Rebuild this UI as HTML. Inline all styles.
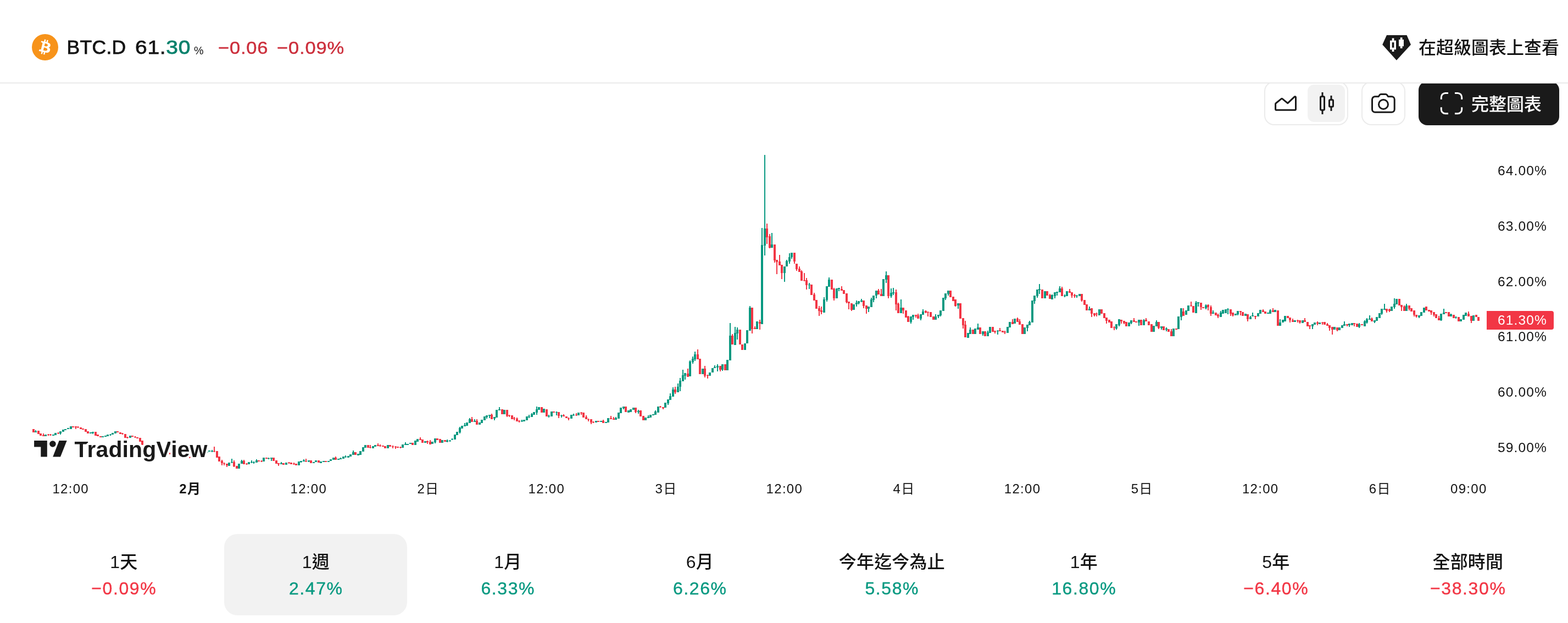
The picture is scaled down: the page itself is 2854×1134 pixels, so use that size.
<!DOCTYPE html>
<html lang="zh-Hant"><head><meta charset="utf-8"><title>BTC.D</title>
<style>
html,body{margin:0;padding:0;background:#fff;}
body{width:2854px;height:1134px;position:relative;overflow:hidden;font-family:"Liberation Sans", "Noto Sans CJK TC", sans-serif;color:#131313;
-webkit-font-smoothing:antialiased;}
.t{position:absolute;white-space:nowrap;}
.abs{position:absolute;}
.c{text-align:center;}
svg{position:absolute;overflow:visible;}
</style></head><body>

<svg class="chart" width="2854" height="1134" viewBox="0 0 2854 1134" style="left:0;top:0" shape-rendering="crispEdges">
<path fill="#089981" d="M63 785h4V787h-4zM64 783h2V787h-2zM81 791h4V794h-4zM82 791h2V794h-2zM95 791h4V793h-4zM96 791h2V793h-2zM99 788h4V792h-4zM100 788h2V792h-2zM108 785h4V789h-4zM109 785h2V791h-2zM113 782h4V786h-4zM114 782h2V786h-2zM117 781h4V783h-4zM118 781h2V783h-2zM122 779h4V781h-4zM123 779h2V781h-2zM127 776h4V781h-4zM128 776h2V781h-2zM163 787h4V789h-4zM164 787h2V789h-2zM167 786h4V788h-4zM168 786h2V790h-2zM185 794h4V796h-4zM186 794h2V796h-2zM190 793h4V795h-4zM191 793h2V795h-2zM194 791h4V794h-4zM195 791h2V794h-2zM199 791h4V792h-4zM200 790h2V793h-2zM203 788h4V791h-4zM204 788h2V791h-2zM208 785h4V789h-4zM209 785h2V789h-2zM235 793h4V797h-4zM236 793h2V797h-2zM311 825h4V826h-4zM312 824h2V827h-2zM339 832h4V833h-4zM340 831h2V834h-2zM348 832h4V833h-4zM349 831h2V834h-2zM352 830h4V832h-4zM353 830h2V833h-2zM357 827h4V830h-4zM358 826h2V831h-2zM361 826h4V827h-4zM362 825h2V828h-2zM366 825h4V827h-4zM367 825h2V828h-2zM370 824h4V825h-4zM371 823h2V826h-2zM375 822h4V824h-4zM376 822h2V825h-2zM379 820h4V822h-4zM380 820h2V822h-2zM384 821h4V822h-4zM385 819h2V823h-2zM415 842h4V848h-4zM416 842h2V848h-2zM420 841h4V842h-4zM421 835h2V843h-2zM433 844h4V853h-4zM434 844h2V853h-2zM438 839h4V844h-4zM439 837h2V844h-2zM451 841h4V845h-4zM452 841h2V845h-2zM456 841h4V842h-4zM457 838h2V843h-2zM460 841h4V842h-4zM461 840h2V844h-2zM465 838h4V842h-4zM466 836h2V842h-2zM478 833h4V840h-4zM479 833h2V840h-2zM487 834h4V835h-4zM488 833h2V836h-2zM492 833h4V835h-4zM493 833h2V839h-2zM510 843h4V845h-4zM511 841h2V845h-2zM519 842h4V846h-4zM520 842h2V846h-2zM542 840h4V847h-4zM543 840h2V847h-2zM546 839h4V841h-4zM547 839h2V842h-2zM551 838h4V840h-4zM552 836h2V840h-2zM560 838h4V840h-4zM561 838h2V841h-2zM569 841h4V843h-4zM570 841h2V843h-2zM573 838h4V841h-4zM574 838h2V841h-2zM582 840h4V843h-4zM583 840h2V843h-2zM587 839h4V841h-4zM588 839h2V841h-2zM596 839h4V841h-4zM597 839h2V841h-2zM600 836h4V839h-4zM601 836h2V839h-2zM605 833h4V837h-4zM606 833h2V837h-2zM614 835h4V837h-4zM615 835h2V837h-2zM618 834h4V836h-4zM619 833h2V836h-2zM623 831h4V835h-4zM624 831h2V835h-2zM627 831h4V832h-4zM628 829h2V833h-2zM632 830h4V833h-4zM633 830h2V833h-2zM636 827h4V831h-4zM637 827h2V831h-2zM641 823h4V828h-4zM642 820h2V828h-2zM650 826h4V829h-4zM651 826h2V829h-2zM654 821h4V828h-4zM655 821h2V828h-2zM659 814h4V822h-4zM660 814h2V822h-2zM663 810h4V815h-4zM664 810h2V815h-2zM677 812h4V816h-4zM678 812h2V816h-2zM681 810h4V813h-4zM682 810h2V813h-2zM704 810h4V816h-4zM705 810h2V816h-2zM731 809h4V815h-4zM732 809h2V815h-2zM736 808h4V810h-4zM737 805h2V810h-2zM740 808h4V810h-4zM741 808h2V810h-2zM745 806h4V808h-4zM746 806h2V808h-2zM754 802h4V810h-4zM755 802h2V810h-2zM758 799h4V804h-4zM759 799h2V804h-2zM772 803h4V806h-4zM773 803h2V806h-2zM785 804h4V808h-4zM786 804h2V808h-2zM790 798h4V805h-4zM791 798h2V807h-2zM803 801h4V806h-4zM804 801h2V806h-2zM812 802h4V804h-4zM813 800h2V805h-2zM817 802h4V803h-4zM818 801h2V804h-2zM821 799h4V800h-4zM822 798h2V801h-2zM826 791h4V800h-4zM827 791h2V800h-2zM830 786h4V792h-4zM831 786h2V792h-2zM835 779h4V787h-4zM836 777h2V789h-2zM839 775h4V780h-4zM840 775h2V780h-2zM844 774h4V776h-4zM845 770h2V776h-2zM848 769h4V775h-4zM849 769h2V775h-2zM853 763h4V770h-4zM854 761h2V770h-2zM862 766h4V768h-4zM863 763h2V768h-2zM871 769h4V773h-4zM872 769h2V773h-2zM875 764h4V770h-4zM876 764h2V770h-2zM880 758h4V765h-4zM881 758h2V765h-2zM884 756h4V759h-4zM885 756h2V762h-2zM889 755h4V757h-4zM890 755h2V761h-2zM898 759h4V762h-4zM899 759h2V765h-2zM902 746h4V760h-4zM903 746h2V760h-2zM907 745h4V747h-4zM908 741h2V747h-2zM916 746h4V754h-4zM917 746h2V754h-2zM948 766h4V767h-4zM949 764h2V768h-2zM952 764h4V767h-4zM953 764h2V767h-2zM957 758h4V765h-4zM958 758h2V765h-2zM961 758h4V759h-4zM962 755h2V761h-2zM966 754h4V759h-4zM967 752h2V759h-2zM970 750h4V755h-4zM971 750h2V755h-2zM975 745h4V751h-4zM976 740h2V755h-2zM979 741h4V746h-4zM980 741h2V746h-2zM988 744h4V751h-4zM989 744h2V751h-2zM997 757h4V758h-4zM998 755h2V760h-2zM1002 749h4V758h-4zM1003 749h2V758h-2zM1011 750h4V751h-4zM1012 749h2V756h-2zM1020 756h4V757h-4zM1021 755h2V760h-2zM1038 755h4V762h-4zM1039 755h2V762h-2zM1042 755h4V756h-4zM1043 753h2V757h-2zM1051 751h4V756h-4zM1052 751h2V756h-2zM1083 766h4V769h-4zM1084 766h2V769h-2zM1092 766h4V768h-4zM1093 766h2V768h-2zM1101 768h4V770h-4zM1102 768h2V770h-2zM1105 761h4V769h-4zM1106 761h2V769h-2zM1119 761h4V764h-4zM1120 759h2V764h-2zM1124 751h4V762h-4zM1125 751h2V762h-2zM1128 742h4V752h-4zM1129 742h2V752h-2zM1133 740h4V743h-4zM1134 740h2V745h-2zM1142 747h4V751h-4zM1143 747h2V751h-2zM1146 745h4V750h-4zM1147 745h2V750h-2zM1151 742h4V746h-4zM1152 742h2V746h-2zM1160 748h4V750h-4zM1161 746h2V753h-2zM1173 760h4V765h-4zM1174 760h2V765h-2zM1178 759h4V761h-4zM1179 756h2V761h-2zM1182 755h4V760h-4zM1183 755h2V760h-2zM1187 754h4V756h-4zM1188 754h2V756h-2zM1191 749h4V755h-4zM1192 747h2V755h-2zM1196 740h4V751h-4zM1197 740h2V751h-2zM1209 733h4V742h-4zM1210 733h2V742h-2zM1214 727h4V734h-4zM1215 727h2V737h-2zM1218 721h4V728h-4zM1219 716h2V728h-2zM1223 709h4V722h-4zM1224 705h2V722h-2zM1232 704h4V714h-4zM1233 698h2V714h-2zM1236 693h4V704h-4zM1237 688h2V712h-2zM1241 683h4V694h-4zM1242 673h2V694h-2zM1245 679h4V684h-4zM1246 679h2V691h-2zM1254 658h4V685h-4zM1255 656h2V685h-2zM1259 653h4V659h-4zM1260 649h2V662h-2zM1263 645h4V654h-4zM1264 640h2V657h-2zM1277 671h4V681h-4zM1278 671h2V681h-2zM1290 678h4V684h-4zM1291 678h2V684h-2zM1295 670h4V678h-4zM1296 670h2V678h-2zM1299 668h4V670h-4zM1300 665h2V670h-2zM1304 666h4V669h-4zM1305 663h2V676h-2zM1313 663h4V673h-4zM1314 663h2V675h-2zM1322 655h4V674h-4zM1323 655h2V674h-2zM1327 611h4V656h-4zM1328 588h2V656h-2zM1336 606h4V628h-4zM1337 595h2V628h-2zM1340 600h4V607h-4zM1341 596h2V618h-2zM1354 625h4V637h-4zM1355 625h2V637h-2zM1358 601h4V625h-4zM1359 601h2V625h-2zM1363 560h4V602h-4zM1364 557h2V602h-2zM1376 585h4V599h-4zM1377 585h2V599h-2zM1385 446h4V590h-4zM1386 415h2V590h-2zM1390 416h4V447h-4zM1391 282h2V465h-2zM1403 445h4V451h-4zM1404 424h2V451h-2zM1426 485h4V497h-4zM1427 485h2V513h-2zM1430 475h4V485h-4zM1431 473h2V485h-2zM1435 468h4V476h-4zM1436 461h2V480h-2zM1439 460h4V468h-4zM1440 460h2V471h-2zM1471 518h4V519h-4zM1472 515h2V526h-2zM1498 545h4V569h-4zM1499 541h2V569h-2zM1503 521h4V546h-4zM1504 521h2V549h-2zM1507 509h4V522h-4zM1508 505h2V522h-2zM1521 525h4V543h-4zM1522 525h2V543h-2zM1525 524h4V526h-4zM1526 524h2V530h-2zM1552 554h4V564h-4zM1553 554h2V564h-2zM1557 551h4V554h-4zM1558 547h2V558h-2zM1561 548h4V552h-4zM1562 548h2V554h-2zM1566 547h4V549h-4zM1567 544h2V550h-2zM1579 558h4V562h-4zM1580 558h2V568h-2zM1584 545h4V559h-4zM1585 542h2V559h-2zM1588 538h4V546h-4zM1589 538h2V550h-2zM1593 529h4V538h-4zM1594 529h2V543h-2zM1606 508h4V539h-4zM1607 508h2V539h-2zM1611 501h4V509h-4zM1612 494h2V515h-2zM1620 533h4V539h-4zM1621 525h2V542h-2zM1624 532h4V534h-4zM1625 524h2V537h-2zM1638 560h4V570h-4zM1639 545h2V570h-2zM1656 576h4V586h-4zM1657 576h2V589h-2zM1660 573h4V577h-4zM1661 573h2V582h-2zM1674 572h4V580h-4zM1675 572h2V583h-2zM1678 567h4V573h-4zM1679 563h2V573h-2zM1701 576h4V582h-4zM1702 572h2V582h-2zM1706 573h4V576h-4zM1707 573h2V579h-2zM1710 565h4V574h-4zM1711 565h2V576h-2zM1715 542h4V566h-4zM1716 542h2V566h-2zM1719 534h4V543h-4zM1720 534h2V546h-2zM1724 529h4V535h-4zM1725 529h2V538h-2zM1742 552h4V556h-4zM1743 552h2V562h-2zM1760 606h4V615h-4zM1761 606h2V615h-2zM1764 600h4V608h-4zM1765 596h2V608h-2zM1773 598h4V608h-4zM1774 598h2V608h-2zM1778 596h4V600h-4zM1779 589h2V600h-2zM1787 603h4V608h-4zM1788 603h2V611h-2zM1796 605h4V612h-4zM1797 602h2V612h-2zM1800 595h4V606h-4zM1801 595h2V606h-2zM1814 602h4V603h-4zM1815 601h2V609h-2zM1832 595h4V606h-4zM1833 595h2V606h-2zM1836 586h4V596h-4zM1837 586h2V596h-2zM1845 580h4V589h-4zM1846 580h2V589h-2zM1863 596h4V608h-4zM1864 596h2V608h-2zM1868 591h4V597h-4zM1869 591h2V603h-2zM1872 586h4V592h-4zM1873 584h2V592h-2zM1877 547h4V587h-4zM1878 547h2V587h-2zM1881 538h4V548h-4zM1882 538h2V553h-2zM1886 527h4V539h-4zM1887 527h2V542h-2zM1890 526h4V528h-4zM1891 517h2V535h-2zM1900 530h4V543h-4zM1901 530h2V543h-2zM1913 537h4V545h-4zM1914 536h2V545h-2zM1918 532h4V539h-4zM1919 532h2V543h-2zM1922 531h4V533h-4zM1923 531h2V538h-2zM1927 525h4V532h-4zM1928 521h2V532h-2zM1936 538h4V539h-4zM1937 536h2V541h-2zM1940 530h4V539h-4zM1941 530h2V539h-2zM1958 538h4V539h-4zM1959 537h2V542h-2zM1963 535h4V539h-4zM1964 535h2V539h-2zM1981 562h4V565h-4zM1982 558h2V565h-2zM1999 563h4V574h-4zM2000 563h2V574h-2zM2030 590h4V598h-4zM2031 590h2V600h-2zM2035 581h4V592h-4zM2036 581h2V594h-2zM2053 587h4V594h-4zM2054 587h2V594h-2zM2057 583h4V588h-4zM2058 583h2V590h-2zM2071 582h4V587h-4zM2072 582h2V593h-2zM2080 583h4V592h-4zM2081 581h2V592h-2zM2098 593h4V604h-4zM2099 593h2V604h-2zM2103 586h4V594h-4zM2104 583h2V594h-2zM2112 594h4V597h-4zM2113 594h2V600h-2zM2121 598h4V600h-4zM2122 596h2V603h-2zM2134 598h4V612h-4zM2135 598h2V612h-2zM2143 576h4V599h-4zM2144 576h2V599h-2zM2148 561h4V577h-4zM2149 561h2V583h-2zM2157 565h4V573h-4zM2158 565h2V573h-2zM2161 556h4V566h-4zM2162 556h2V566h-2zM2175 551h4V570h-4zM2176 548h2V570h-2zM2179 550h4V552h-4zM2180 550h2V558h-2zM2193 556h4V561h-4zM2194 554h2V563h-2zM2206 569h4V571h-4zM2207 565h2V571h-2zM2220 569h4V577h-4zM2221 566h2V577h-2zM2224 564h4V571h-4zM2225 564h2V571h-2zM2229 563h4V570h-4zM2230 563h2V570h-2zM2233 563h4V564h-4zM2234 561h2V572h-2zM2247 571h4V574h-4zM2248 571h2V574h-2zM2251 566h4V572h-4zM2252 566h2V574h-2zM2265 571h4V575h-4zM2266 571h2V575h-2zM2274 577h4V581h-4zM2275 575h2V581h-2zM2278 574h4V576h-4zM2279 569h2V576h-2zM2288 570h4V576h-4zM2289 570h2V576h-2zM2292 564h4V571h-4zM2293 564h2V571h-2zM2306 569h4V571h-4zM2307 569h2V571h-2zM2310 565h4V571h-4zM2311 563h2V571h-2zM2319 564h4V568h-4zM2320 564h2V568h-2zM2328 587h4V593h-4zM2329 581h2V593h-2zM2333 582h4V587h-4zM2334 582h2V587h-2zM2337 575h4V585h-4zM2338 575h2V585h-2zM2355 583h4V586h-4zM2356 583h2V586h-2zM2369 583h4V588h-4zM2370 583h2V588h-2zM2387 590h4V594h-4zM2388 590h2V599h-2zM2391 587h4V591h-4zM2392 587h2V591h-2zM2400 587h4V590h-4zM2401 587h2V590h-2zM2427 595h4V600h-4zM2428 595h2V600h-2zM2436 596h4V601h-4zM2437 596h2V601h-2zM2441 592h4V597h-4zM2442 592h2V597h-2zM2445 590h4V593h-4zM2446 585h2V593h-2zM2454 589h4V592h-4zM2455 589h2V595h-2zM2459 588h4V592h-4zM2460 588h2V592h-2zM2472 590h4V595h-4zM2473 588h2V597h-2zM2482 585h4V594h-4zM2483 583h2V594h-2zM2486 581h4V587h-4zM2487 579h2V589h-2zM2491 580h4V582h-4zM2492 574h2V582h-2zM2500 583h4V586h-4zM2501 583h2V588h-2zM2504 577h4V584h-4zM2505 577h2V584h-2zM2509 570h4V579h-4zM2510 570h2V579h-2zM2513 562h4V571h-4zM2514 562h2V573h-2zM2518 562h4V564h-4zM2519 553h2V564h-2zM2531 558h4V566h-4zM2532 558h2V566h-2zM2536 553h4V559h-4zM2537 543h2V562h-2zM2540 544h4V554h-4zM2541 544h2V554h-2zM2558 556h4V566h-4zM2559 553h2V566h-2zM2581 574h4V577h-4zM2582 574h2V579h-2zM2585 568h4V575h-4zM2586 568h2V575h-2zM2590 560h4V569h-4zM2591 560h2V569h-2zM2621 571h4V583h-4zM2622 571h2V584h-2zM2626 569h4V572h-4zM2627 562h2V572h-2zM2639 572h4V576h-4zM2640 571h2V576h-2zM2648 577h4V578h-4zM2649 576h2V580h-2zM2657 581h4V585h-4zM2658 581h2V585h-2zM2662 573h4V582h-4zM2663 573h2V582h-2zM2666 569h4V575h-4zM2667 569h2V575h-2zM2680 574h4V584h-4zM2681 574h2V584h-2z"/><path fill="#f23645" d="M59 781h4V787h-4zM60 781h2V787h-2zM68 784h4V790h-4zM69 784h2V790h-2zM72 789h4V793h-4zM73 789h2V793h-2zM77 792h4V794h-4zM78 789h2V794h-2zM86 791h4V792h-4zM87 790h2V793h-2zM90 791h4V792h-4zM91 790h2V793h-2zM104 788h4V789h-4zM105 787h2V790h-2zM131 776h4V778h-4zM132 776h2V778h-2zM136 776h4V778h-4zM137 776h2V781h-2zM140 777h4V778h-4zM141 776h2V779h-2zM145 778h4V781h-4zM146 778h2V781h-2zM149 780h4V782h-4zM150 780h2V782h-2zM154 781h4V786h-4zM155 781h2V786h-2zM158 785h4V789h-4zM159 785h2V789h-2zM172 786h4V793h-4zM173 786h2V793h-2zM176 791h4V794h-4zM177 791h2V794h-2zM181 794h4V796h-4zM182 794h2V796h-2zM212 785h4V787h-4zM213 785h2V787h-2zM217 787h4V790h-4zM218 787h2V790h-2zM221 789h4V790h-4zM222 788h2V791h-2zM226 790h4V797h-4zM227 790h2V797h-2zM230 796h4V797h-4zM231 795h2V798h-2zM239 793h4V795h-4zM240 793h2V795h-2zM244 795h4V796h-4zM245 794h2V797h-2zM248 796h4V798h-4zM249 796h2V798h-2zM253 797h4V804h-4zM254 797h2V804h-2zM257 802h4V810h-4zM258 802h2V810h-2zM262 810h4V811h-4zM263 809h2V812h-2zM266 810h4V811h-4zM267 809h2V812h-2zM271 811h4V812h-4zM272 810h2V813h-2zM275 812h4V814h-4zM276 812h2V814h-2zM280 814h4V815h-4zM281 813h2V816h-2zM284 815h4V817h-4zM285 815h2V818h-2zM289 817h4V819h-4zM290 816h2V821h-2zM293 819h4V820h-4zM294 818h2V821h-2zM298 820h4V821h-4zM299 819h2V822h-2zM302 821h4V825h-4zM303 821h2V826h-2zM307 825h4V826h-4zM308 824h2V827h-2zM316 825h4V827h-4zM317 824h2V828h-2zM320 827h4V828h-4zM321 826h2V829h-2zM325 828h4V830h-4zM326 827h2V830h-2zM330 830h4V831h-4zM331 829h2V832h-2zM334 831h4V832h-4zM335 830h2V834h-2zM343 832h4V833h-4zM344 831h2V834h-2zM388 821h4V822h-4zM389 813h2V823h-2zM393 821h4V833h-4zM394 821h2V833h-2zM397 831h4V840h-4zM398 831h2V840h-2zM402 839h4V843h-4zM403 837h2V847h-2zM406 843h4V844h-4zM407 842h2V847h-2zM411 844h4V847h-4zM412 844h2V850h-2zM424 841h4V849h-4zM425 838h2V850h-2zM429 848h4V853h-4zM430 848h2V853h-2zM442 839h4V845h-4zM443 837h2V845h-2zM447 844h4V845h-4zM448 843h2V846h-2zM469 838h4V840h-4zM470 838h2V840h-2zM474 839h4V840h-4zM475 838h2V841h-2zM483 833h4V835h-4zM484 833h2V835h-2zM496 833h4V839h-4zM497 833h2V839h-2zM501 838h4V844h-4zM502 838h2V844h-2zM505 843h4V845h-4zM506 843h2V848h-2zM514 843h4V846h-4zM515 843h2V846h-2zM524 842h4V843h-4zM525 841h2V844h-2zM528 842h4V845h-4zM529 842h2V845h-2zM533 844h4V845h-4zM534 842h2V846h-2zM537 844h4V847h-4zM538 844h2V847h-2zM555 839h4V840h-4zM556 835h2V841h-2zM564 838h4V843h-4zM565 838h2V843h-2zM578 838h4V842h-4zM579 838h2V842h-2zM591 839h4V841h-4zM592 839h2V841h-2zM609 833h4V837h-4zM610 831h2V837h-2zM645 823h4V828h-4zM646 823h2V828h-2zM668 810h4V815h-4zM669 810h2V815h-2zM672 814h4V815h-4zM673 810h2V816h-2zM686 810h4V812h-4zM687 807h2V812h-2zM690 811h4V812h-4zM691 809h2V813h-2zM695 811h4V813h-4zM696 811h2V813h-2zM699 812h4V816h-4zM700 812h2V816h-2zM708 810h4V813h-4zM709 810h2V813h-2zM713 812h4V813h-4zM714 811h2V816h-2zM718 813h4V814h-4zM719 812h2V817h-2zM722 813h4V815h-4zM723 813h2V815h-2zM727 814h4V815h-4zM728 813h2V816h-2zM749 806h4V810h-4zM750 806h2V810h-2zM763 799h4V801h-4zM764 796h2V801h-2zM767 800h4V806h-4zM768 800h2V806h-2zM776 803h4V805h-4zM777 802h2V808h-2zM781 804h4V809h-4zM782 801h2V809h-2zM794 798h4V801h-4zM795 798h2V801h-2zM799 799h4V806h-4zM800 799h2V806h-2zM808 801h4V804h-4zM809 801h2V804h-2zM857 763h4V768h-4zM858 759h2V768h-2zM866 766h4V773h-4zM867 763h2V773h-2zM893 755h4V763h-4zM894 753h2V763h-2zM912 745h4V754h-4zM913 745h2V754h-2zM921 746h4V757h-4zM922 746h2V759h-2zM925 756h4V757h-4zM926 755h2V759h-2zM930 756h4V763h-4zM931 756h2V763h-2zM934 761h4V762h-4zM935 759h2V765h-2zM939 762h4V767h-4zM940 760h2V767h-2zM943 766h4V767h-4zM944 765h2V769h-2zM984 741h4V751h-4zM985 741h2V751h-2zM993 745h4V758h-4zM994 745h2V758h-2zM1006 749h4V751h-4zM1007 749h2V751h-2zM1015 750h4V757h-4zM1016 750h2V761h-2zM1024 756h4V758h-4zM1025 754h2V758h-2zM1029 758h4V761h-4zM1030 758h2V761h-2zM1033 761h4V762h-4zM1034 760h2V765h-2zM1047 755h4V756h-4zM1048 752h2V757h-2zM1056 751h4V752h-4zM1057 750h2V755h-2zM1060 751h4V760h-4zM1061 751h2V760h-2zM1065 759h4V763h-4zM1066 756h2V763h-2zM1069 763h4V764h-4zM1070 762h2V767h-2zM1074 763h4V769h-4zM1075 763h2V772h-2zM1078 768h4V769h-4zM1079 767h2V770h-2zM1087 766h4V768h-4zM1088 766h2V768h-2zM1096 766h4V770h-4zM1097 764h2V770h-2zM1110 761h4V763h-4zM1111 757h2V763h-2zM1115 762h4V764h-4zM1116 759h2V764h-2zM1137 740h4V750h-4zM1138 740h2V750h-2zM1155 742h4V750h-4zM1156 742h2V752h-2zM1164 747h4V758h-4zM1165 747h2V758h-2zM1169 757h4V765h-4zM1170 757h2V765h-2zM1200 740h4V741h-4zM1201 739h2V742h-2zM1205 741h4V743h-4zM1206 741h2V745h-2zM1227 709h4V714h-4zM1228 704h2V717h-2zM1250 680h4V686h-4zM1251 671h2V686h-2zM1268 645h4V654h-4zM1269 636h2V654h-2zM1272 653h4V681h-4zM1273 653h2V681h-2zM1281 671h4V684h-4zM1282 666h2V687h-2zM1286 683h4V684h-4zM1287 682h2V689h-2zM1309 666h4V673h-4zM1310 666h2V676h-2zM1318 663h4V674h-4zM1319 663h2V674h-2zM1331 611h4V627h-4zM1332 608h2V627h-2zM1345 600h4V627h-4zM1346 600h2V627h-2zM1349 627h4V637h-4zM1350 627h2V637h-2zM1367 560h4V599h-4zM1368 560h2V607h-2zM1372 597h4V599h-4zM1373 594h2V599h-2zM1381 586h4V589h-4zM1382 582h2V600h-2zM1394 416h4V432h-4zM1395 407h2V444h-2zM1399 430h4V451h-4zM1400 426h2V452h-2zM1408 445h4V474h-4zM1409 445h2V478h-2zM1412 473h4V477h-4zM1413 473h2V499h-2zM1417 476h4V483h-4zM1418 464h2V483h-2zM1421 482h4V497h-4zM1422 482h2V508h-2zM1444 460h4V476h-4zM1445 460h2V480h-2zM1448 480h4V490h-4zM1449 480h2V493h-2zM1453 489h4V495h-4zM1454 485h2V495h-2zM1457 494h4V511h-4zM1458 492h2V511h-2zM1462 510h4V511h-4zM1463 497h2V512h-2zM1466 510h4V519h-4zM1467 506h2V527h-2zM1475 518h4V537h-4zM1476 518h2V537h-2zM1480 536h4V547h-4zM1481 533h2V547h-2zM1484 546h4V562h-4zM1485 546h2V562h-2zM1489 561h4V566h-4zM1490 557h2V575h-2zM1493 565h4V568h-4zM1494 558h2V572h-2zM1512 509h4V527h-4zM1513 509h2V527h-2zM1516 526h4V543h-4zM1517 524h2V547h-2zM1530 526h4V529h-4zM1531 521h2V529h-2zM1534 528h4V535h-4zM1535 528h2V535h-2zM1539 534h4V550h-4zM1540 534h2V552h-2zM1543 549h4V552h-4zM1544 549h2V563h-2zM1548 552h4V564h-4zM1549 552h2V566h-2zM1570 547h4V557h-4zM1571 547h2V561h-2zM1575 556h4V562h-4zM1576 556h2V571h-2zM1597 529h4V536h-4zM1598 526h2V536h-2zM1602 535h4V539h-4zM1603 526h2V539h-2zM1615 501h4V539h-4zM1616 501h2V543h-2zM1629 532h4V554h-4zM1630 527h2V565h-2zM1633 553h4V570h-4zM1634 551h2V570h-2zM1642 560h4V565h-4zM1643 560h2V571h-2zM1647 565h4V578h-4zM1648 565h2V578h-2zM1651 576h4V586h-4zM1652 575h2V586h-2zM1665 573h4V575h-4zM1666 573h2V578h-2zM1669 574h4V580h-4zM1670 571h2V580h-2zM1683 566h4V569h-4zM1684 565h2V570h-2zM1687 568h4V569h-4zM1688 567h2V576h-2zM1692 568h4V577h-4zM1693 568h2V577h-2zM1697 576h4V582h-4zM1698 576h2V582h-2zM1728 529h4V541h-4zM1729 529h2V541h-2zM1733 540h4V548h-4zM1734 540h2V548h-2zM1737 545h4V557h-4zM1738 545h2V558h-2zM1746 552h4V580h-4zM1747 552h2V580h-2zM1751 579h4V592h-4zM1752 579h2V598h-2zM1755 591h4V614h-4zM1756 584h2V614h-2zM1769 600h4V608h-4zM1770 600h2V608h-2zM1782 596h4V608h-4zM1783 596h2V608h-2zM1791 603h4V612h-4zM1792 603h2V612h-2zM1805 595h4V604h-4zM1806 595h2V604h-2zM1809 602h4V604h-4zM1810 602h2V607h-2zM1818 601h4V603h-4zM1819 597h2V603h-2zM1823 602h4V605h-4zM1824 602h2V605h-2zM1827 604h4V605h-4zM1828 602h2V608h-2zM1841 586h4V590h-4zM1842 581h2V590h-2zM1850 580h4V586h-4zM1851 578h2V586h-2zM1854 585h4V591h-4zM1855 581h2V591h-2zM1859 590h4V608h-4zM1860 590h2V608h-2zM1895 527h4V543h-4zM1896 527h2V543h-2zM1904 530h4V538h-4zM1905 530h2V538h-2zM1909 537h4V544h-4zM1910 535h2V544h-2zM1931 525h4V539h-4zM1932 522h2V539h-2zM1945 530h4V533h-4zM1946 526h2V533h-2zM1949 532h4V538h-4zM1950 532h2V542h-2zM1954 537h4V539h-4zM1955 535h2V542h-2zM1967 535h4V547h-4zM1968 535h2V549h-2zM1972 546h4V555h-4zM1973 546h2V555h-2zM1976 554h4V565h-4zM1977 554h2V565h-2zM1985 561h4V571h-4zM1986 561h2V577h-2zM1990 570h4V574h-4zM1991 570h2V576h-2zM1994 571h4V572h-4zM1995 569h2V576h-2zM2003 563h4V571h-4zM2004 563h2V571h-2zM2008 570h4V579h-4zM2009 570h2V579h-2zM2012 578h4V584h-4zM2013 578h2V589h-2zM2017 582h4V587h-4zM2018 582h2V587h-2zM2021 585h4V597h-4zM2022 585h2V597h-2zM2026 596h4V597h-4zM2027 594h2V601h-2zM2039 582h4V585h-4zM2040 582h2V589h-2zM2044 584h4V588h-4zM2045 584h2V590h-2zM2048 586h4V594h-4zM2049 586h2V594h-2zM2062 583h4V586h-4zM2063 579h2V586h-2zM2066 585h4V587h-4zM2067 585h2V587h-2zM2075 582h4V592h-4zM2076 582h2V592h-2zM2084 582h4V585h-4zM2085 579h2V585h-2zM2089 585h4V592h-4zM2090 585h2V592h-2zM2094 590h4V604h-4zM2095 590h2V604h-2zM2107 586h4V597h-4zM2108 586h2V599h-2zM2116 594h4V601h-4zM2117 594h2V601h-2zM2125 599h4V604h-4zM2126 599h2V604h-2zM2130 603h4V612h-4zM2131 599h2V612h-2zM2139 598h4V600h-4zM2140 598h2V600h-2zM2152 567h4V575h-4zM2153 561h2V575h-2zM2166 556h4V557h-4zM2167 549h2V558h-2zM2170 557h4V569h-4zM2171 557h2V569h-2zM2184 551h4V559h-4zM2185 551h2V564h-2zM2188 559h4V561h-4zM2189 559h2V561h-2zM2197 555h4V559h-4zM2198 554h2V565h-2zM2202 559h4V571h-4zM2203 556h2V575h-2zM2211 569h4V574h-4zM2212 569h2V574h-2zM2215 573h4V576h-4zM2216 571h2V579h-2zM2238 563h4V571h-4zM2239 563h2V575h-2zM2242 569h4V574h-4zM2243 569h2V576h-2zM2256 566h4V568h-4zM2257 566h2V574h-2zM2260 568h4V575h-4zM2261 568h2V575h-2zM2269 572h4V581h-4zM2270 572h2V585h-2zM2283 575h4V577h-4zM2284 575h2V581h-2zM2297 565h4V568h-4zM2298 563h2V568h-2zM2301 567h4V571h-4zM2302 567h2V571h-2zM2315 565h4V568h-4zM2316 561h2V568h-2zM2324 565h4V593h-4zM2325 565h2V593h-2zM2342 575h4V579h-4zM2343 575h2V579h-2zM2346 578h4V583h-4zM2347 578h2V587h-2zM2351 583h4V586h-4zM2352 580h2V586h-2zM2360 583h4V584h-4zM2361 582h2V587h-2zM2364 583h4V587h-4zM2365 583h2V589h-2zM2373 583h4V586h-4zM2374 579h2V586h-2zM2378 586h4V594h-4zM2379 586h2V594h-2zM2382 592h4V594h-4zM2383 592h2V599h-2zM2396 587h4V589h-4zM2397 585h2V592h-2zM2405 587h4V588h-4zM2406 586h2V591h-2zM2409 586h4V591h-4zM2410 586h2V591h-2zM2414 590h4V593h-4zM2415 588h2V593h-2zM2418 592h4V597h-4zM2419 592h2V602h-2zM2423 595h4V600h-4zM2424 595h2V609h-2zM2432 596h4V601h-4zM2433 596h2V603h-2zM2450 590h4V592h-4zM2451 590h2V594h-2zM2463 588h4V590h-4zM2464 588h2V594h-2zM2468 589h4V595h-4zM2469 589h2V595h-2zM2477 590h4V592h-4zM2478 590h2V592h-2zM2495 580h4V585h-4zM2496 578h2V585h-2zM2522 562h4V566h-4zM2523 562h2V569h-2zM2527 563h4V566h-4zM2528 562h2V568h-2zM2545 544h4V556h-4zM2546 544h2V556h-2zM2549 555h4V559h-4zM2550 555h2V566h-2zM2554 558h4V566h-4zM2555 556h2V566h-2zM2563 556h4V562h-4zM2564 556h2V565h-2zM2567 561h4V567h-4zM2568 561h2V567h-2zM2572 565h4V573h-4zM2573 565h2V576h-2zM2576 573h4V576h-4zM2577 573h2V578h-2zM2594 558h4V565h-4zM2595 558h2V565h-2zM2599 564h4V567h-4zM2600 564h2V567h-2zM2603 565h4V569h-4zM2604 565h2V573h-2zM2608 568h4V573h-4zM2609 568h2V576h-2zM2612 572h4V579h-4zM2613 572h2V579h-2zM2617 579h4V583h-4zM2618 575h2V583h-2zM2630 568h4V570h-4zM2631 568h2V570h-2zM2635 568h4V576h-4zM2636 568h2V576h-2zM2644 573h4V579h-4zM2645 573h2V579h-2zM2653 577h4V585h-4zM2654 577h2V585h-2zM2671 571h4V576h-4zM2672 567h2V576h-2zM2676 575h4V584h-4zM2677 575h2V588h-2zM2685 573h4V577h-4zM2686 573h2V577h-2zM2689 577h4V584h-4zM2690 577h2V584h-2z"/>
</svg>
<svg width="340" height="60" viewBox="0 0 340 60" style="left:52px;top:792px">
<g stroke="#fff" stroke-width="8" stroke-linejoin="round" fill="#fff"><path d="M10.1 10.1H33.8V39.6H22.3V21.6H10.1z"/><circle cx="43.9" cy="16" r="5.8"/><path d="M55.7 10.1H69.7L58 39.6H44.2z"/></g>
<g fill="#1a1a1a"><path d="M10.1 10.1H33.8V39.6H22.3V21.6H10.1z"/><circle cx="43.9" cy="16" r="5.8"/><path d="M55.7 10.1H69.7L58 39.6H44.2z"/>
<text x="83.5" y="40" stroke="#fff" stroke-width="8" stroke-linejoin="round" paint-order="stroke" font-family="Liberation Sans, sans-serif" font-weight="700" font-size="41" textLength="242" lengthAdjust="spacing">TradingView</text>
</g>
</svg>
<div class="t " style="left:2726px;top:298.90000000000003px;font-size:24.5px;line-height:24.5px;color:#131313;font-weight:400;letter-spacing:1.15px;">64.00%</div>
<div class="t " style="left:2726px;top:399.7px;font-size:24.5px;line-height:24.5px;color:#131313;font-weight:400;letter-spacing:1.15px;">63.00%</div>
<div class="t " style="left:2726px;top:500.50000000000006px;font-size:24.5px;line-height:24.5px;color:#131313;font-weight:400;letter-spacing:1.15px;">62.00%</div>
<div class="t " style="left:2726px;top:601.3px;font-size:24.5px;line-height:24.5px;color:#131313;font-weight:400;letter-spacing:1.15px;">61.00%</div>
<div class="t " style="left:2726px;top:702.0999999999999px;font-size:24.5px;line-height:24.5px;color:#131313;font-weight:400;letter-spacing:1.15px;">60.00%</div>
<div class="t " style="left:2726px;top:802.9px;font-size:24.5px;line-height:24.5px;color:#131313;font-weight:400;letter-spacing:1.15px;">59.00%</div>
<div class="abs" style="left:2706px;top:566px;width:122px;height:34px;background:#f23645;border-radius:0 4px 4px 0"></div>
<div class="t " style="left:2726px;top:571.3px;font-size:24.5px;line-height:24.5px;color:#fff;font-weight:400;letter-spacing:1.15px;">61.30%</div>
<div class="t c" style="left:28.7px;width:200px;top:877.5px;font-size:24px;line-height:24px;font-weight:400;letter-spacing:1.3px;">12:00</div>
<div class="t c" style="left:246.3px;width:200px;top:877.5px;font-size:24px;line-height:24px;font-weight:700;letter-spacing:1.3px;">2月</div>
<div class="t c" style="left:461.8px;width:200px;top:877.5px;font-size:24px;line-height:24px;font-weight:400;letter-spacing:1.3px;">12:00</div>
<div class="t c" style="left:679.4px;width:200px;top:877.5px;font-size:24px;line-height:24px;font-weight:400;letter-spacing:1.3px;">2日</div>
<div class="t c" style="left:894.9px;width:200px;top:877.5px;font-size:24px;line-height:24px;font-weight:400;letter-spacing:1.3px;">12:00</div>
<div class="t c" style="left:1112.5px;width:200px;top:877.5px;font-size:24px;line-height:24px;font-weight:400;letter-spacing:1.3px;">3日</div>
<div class="t c" style="left:1327.9px;width:200px;top:877.5px;font-size:24px;line-height:24px;font-weight:400;letter-spacing:1.3px;">12:00</div>
<div class="t c" style="left:1545.6px;width:200px;top:877.5px;font-size:24px;line-height:24px;font-weight:400;letter-spacing:1.3px;">4日</div>
<div class="t c" style="left:1761.1px;width:200px;top:877.5px;font-size:24px;line-height:24px;font-weight:400;letter-spacing:1.3px;">12:00</div>
<div class="t c" style="left:1978.7px;width:200px;top:877.5px;font-size:24px;line-height:24px;font-weight:400;letter-spacing:1.3px;">5日</div>
<div class="t c" style="left:2194.2px;width:200px;top:877.5px;font-size:24px;line-height:24px;font-weight:400;letter-spacing:1.3px;">12:00</div>
<div class="t c" style="left:2411.8px;width:200px;top:877.5px;font-size:24px;line-height:24px;font-weight:400;letter-spacing:1.3px;">6日</div>
<div class="t c" style="left:2573.3px;width:200px;top:877.5px;font-size:24px;line-height:24px;font-weight:400;letter-spacing:1.3px;">09:00</div>
<div class="abs" style="left:2300.5px;top:148px;width:149px;height:76px;border:2px solid #ebebeb;border-radius:18px;background:#fff"></div>
<div class="abs" style="left:2380px;top:154px;width:68px;height:68px;border-radius:12px;background:#f2f2f2"></div>
<div class="abs" style="left:2478px;top:148px;width:76px;height:76px;border:2px solid #ebebeb;border-radius:18px;background:#fff"></div>
<div class="abs" style="left:2582px;top:148px;width:256px;height:80px;border-radius:16px;background:#1a1a1a"></div>

<svg width="2854" height="260" viewBox="0 0 2854 260" style="left:0;top:0" fill="none" stroke="#1a1a1a" stroke-width="3" stroke-linejoin="round" stroke-linecap="butt">
<path d="M2321.6 198.8V189.2a1.5 1.5 0 0 1 .6-1.2L2332.2 179.9a1.5 1.5 0 0 1 1.9 0L2343.8 187.9 2356.2 176.1a1.4 1.4 0 0 1 2.3 1V198.8a1.5 1.5 0 0 1-1.5 1.5H2323.1a1.5 1.5 0 0 1-1.5-1.5Z"/>
<rect x="2403.5" y="175.8" width="7" height="24.4" rx="1.5"/>
<path d="M2407 168v7.5M2407 200.5v7.5"/>
<rect x="2419.5" y="181.8" width="7" height="12.4" rx="1.5"/>
<path d="M2423 174v7.5M2423 194.5v7.5"/>
<path d="M2497.5 181a5.2 5.2 0 0 1 5.2-5.2h6.3l1.8-2.5a3.2 3.2 0 0 1 2.8-1.7h8.5a3.2 3.2 0 0 1 2.8 1.7l1.8 2.5h6.3a5.2 5.2 0 0 1 5.2 5.2v18a5.2 5.2 0 0 1-5.2 5.2h-30.3a5.2 5.2 0 0 1-5.2-5.2z"/>
<circle cx="2518" cy="190" r="8.5"/>
<g stroke="#fff">
<path d="M2623.3 181v-4a7.6 7.6 0 0 1 7.6-7.6h5.1M2648 169.4h5.1a7.6 7.6 0 0 1 7.6 7.6v4M2660.7 195.2v4a7.6 7.6 0 0 1-7.6 7.6h-5.1M2636 206.8h-5.1a7.6 7.6 0 0 1-7.6-7.6v-4"/>
</g>
</svg>
<div class="t " style="left:2678px;top:174px;font-size:32px;line-height:32px;color:#fff;font-weight:500;">完整圖表</div>
<div class="abs" style="left:0;top:0;width:2854px;height:150px;background:#fff"></div>
<div class="abs" style="left:0;top:150px;width:2854px;height:2px;background:#ebebeb"></div>
<svg width="48" height="48" viewBox="0 0 64 64" style="left:58px;top:62px">
<circle cx="32" cy="32" r="32" fill="#f7931a"/>
<path fill="#fff" transform="translate(32 32) scale(0.92) translate(-32 -32)" d="m46.103,27.444c0.637-4.258-2.605-6.547-7.038-8.074l1.438-5.768-3.511-0.875-1.4,5.616c-0.923-0.23-1.871-0.447-2.813-0.662l1.41-5.653-3.509-0.875-1.439,5.766c-0.764-0.174-1.514-0.346-2.242-0.527l0.004-0.018-4.842-1.209-0.934,3.75s2.605,0.597,2.55,0.634c1.422,0.355,1.679,1.296,1.636,2.042l-1.638,6.571c0.098,0.025,0.225,0.061,0.365,0.117-0.117-0.029-0.242-0.061-0.371-0.092l-2.296,9.205c-0.174,0.432-0.615,1.080-1.609,0.834,0.035,0.051-2.552-0.637-2.552-0.637l-1.743,4.019,4.569,1.139c0.85,0.213,1.683,0.436,2.503,0.646l-1.453,5.834,3.507,0.875,1.439-5.772c0.958,0.26,1.888,0.5,2.798,0.726l-1.434,5.745,3.511,0.875,1.453-5.823c5.987,1.133,10.489,0.676,12.384-4.739,1.527-4.360-0.076-6.875-3.226-8.515,2.294-0.529,4.022-2.038,4.483-5.155zm-8.022,11.249c-1.085,4.360-8.426,2.003-10.806,1.412l1.928-7.729c2.380,0.594,10.012,1.770,8.878,6.317zm1.086-11.312c-0.990,3.966-7.100,1.951-9.082,1.457l1.748-7.010c1.982,0.494,8.365,1.416,7.334,5.553z"/>
</svg>
<div class="t " style="left:121.5px;top:69px;font-size:35.5px;line-height:35.5px;color:#131313;font-weight:400;letter-spacing:0.3px;-webkit-text-stroke:0.8px #131313;">BTC.D</div>
<div class="t " style="left:245.6px;top:69px;font-size:35.5px;line-height:35.5px;color:#131313;font-weight:400;letter-spacing:0.6px;-webkit-text-stroke:0.75px #131313;transform:scaleX(1.1);transform-origin:0 0;">61.<span style="color:#06806b;-webkit-text-stroke:0.8px #06806b">30</span></div>
<div class="t " style="left:352.5px;top:81px;font-size:21px;line-height:21px;color:#131313;font-weight:400;transform:scaleX(0.94);transform-origin:0 0;">%</div>
<div class="t " style="left:397px;top:71px;font-size:32px;line-height:32px;color:#cc2f3c;font-weight:400;letter-spacing:0.7px;-webkit-text-stroke:0.45px #cc2f3c;transform:scaleX(1.08);transform-origin:0 0;">−0.06</div>
<div class="t " style="left:504px;top:71px;font-size:32px;line-height:32px;color:#cc2f3c;font-weight:400;letter-spacing:0.75px;-webkit-text-stroke:0.45px #cc2f3c;transform:scaleX(1.08);transform-origin:0 0;">−0.09%</div>
<svg width="60" height="54" viewBox="0 0 60 54" style="left:2512px;top:60px">
<path fill="#1a1a1a" d="M12 4h36.5l7.5 17.2L29.9 49.8 4.2 21.2z"/>
<g fill="#fff"><path d="M21.7 9.5h3.7v4.2h3.6v16.5h-3.6v3.8h-3.7v-3.8H18V13.7h3.7z"/><path d="M36.8 8.2h3.7v3.7H43v12.3h-2.5v3.9h-3.700000000000003v-3.9H34V11.9h2.8z"/></g>
<rect x="21.7" y="17.1" width="3.7" height="9.6" fill="#1a1a1a"/>
</svg>
<div class="t " style="left:2582px;top:71px;font-size:32px;line-height:32px;color:#131313;font-weight:500;">在超級圖表上查看</div>
<div class="abs" style="left:58.0px;top:972px;width:333.5px;height:148px;border-radius:24px;"><div class="t c" style="left:0;width:100%;top:33px;font-size:32px;line-height:36px;letter-spacing:0.2px;padding-left:0.6px;font-weight:500">1天</div><div class="t c" style="left:0;width:100%;top:81px;font-size:32px;line-height:36px;color:#f23645;letter-spacing:1.6px;padding-left:1px;-webkit-text-stroke:0.4px #f23645">−0.09%</div></div>
<div class="abs" style="left:407.5px;top:972px;width:333.5px;height:148px;border-radius:24px;background:#f2f2f2;"><div class="t c" style="left:0;width:100%;top:33px;font-size:32px;line-height:36px;letter-spacing:0.2px;padding-left:0.6px;font-weight:500">1週</div><div class="t c" style="left:0;width:100%;top:81px;font-size:32px;line-height:36px;color:#089981;letter-spacing:1.6px;padding-left:1px;-webkit-text-stroke:0.4px #089981">2.47%</div></div>
<div class="abs" style="left:757.0px;top:972px;width:333.5px;height:148px;border-radius:24px;"><div class="t c" style="left:0;width:100%;top:33px;font-size:32px;line-height:36px;letter-spacing:0.2px;padding-left:0.6px;font-weight:500">1月</div><div class="t c" style="left:0;width:100%;top:81px;font-size:32px;line-height:36px;color:#089981;letter-spacing:1.6px;padding-left:1px;-webkit-text-stroke:0.4px #089981">6.33%</div></div>
<div class="abs" style="left:1106.5px;top:972px;width:333.5px;height:148px;border-radius:24px;"><div class="t c" style="left:0;width:100%;top:33px;font-size:32px;line-height:36px;letter-spacing:0.2px;padding-left:0.6px;font-weight:500">6月</div><div class="t c" style="left:0;width:100%;top:81px;font-size:32px;line-height:36px;color:#089981;letter-spacing:1.6px;padding-left:1px;-webkit-text-stroke:0.4px #089981">6.26%</div></div>
<div class="abs" style="left:1456.0px;top:972px;width:333.5px;height:148px;border-radius:24px;"><div class="t c" style="left:0;width:100%;top:33px;font-size:32px;line-height:36px;letter-spacing:0.2px;padding-left:0.6px;font-weight:500">今年迄今為止</div><div class="t c" style="left:0;width:100%;top:81px;font-size:32px;line-height:36px;color:#089981;letter-spacing:1.6px;padding-left:1px;-webkit-text-stroke:0.4px #089981">5.58%</div></div>
<div class="abs" style="left:1805.5px;top:972px;width:333.5px;height:148px;border-radius:24px;"><div class="t c" style="left:0;width:100%;top:33px;font-size:32px;line-height:36px;letter-spacing:0.2px;padding-left:0.6px;font-weight:500">1年</div><div class="t c" style="left:0;width:100%;top:81px;font-size:32px;line-height:36px;color:#089981;letter-spacing:1.6px;padding-left:1px;-webkit-text-stroke:0.4px #089981">16.80%</div></div>
<div class="abs" style="left:2155.0px;top:972px;width:333.5px;height:148px;border-radius:24px;"><div class="t c" style="left:0;width:100%;top:33px;font-size:32px;line-height:36px;letter-spacing:0.2px;padding-left:0.6px;font-weight:500">5年</div><div class="t c" style="left:0;width:100%;top:81px;font-size:32px;line-height:36px;color:#f23645;letter-spacing:1.6px;padding-left:1px;-webkit-text-stroke:0.4px #f23645">−6.40%</div></div>
<div class="abs" style="left:2504.5px;top:972px;width:333.5px;height:148px;border-radius:24px;"><div class="t c" style="left:0;width:100%;top:33px;font-size:32px;line-height:36px;letter-spacing:0.2px;padding-left:0.6px;font-weight:500">全部時間</div><div class="t c" style="left:0;width:100%;top:81px;font-size:32px;line-height:36px;color:#f23645;letter-spacing:1.6px;padding-left:1px;-webkit-text-stroke:0.4px #f23645">−38.30%</div></div>
</body></html>
